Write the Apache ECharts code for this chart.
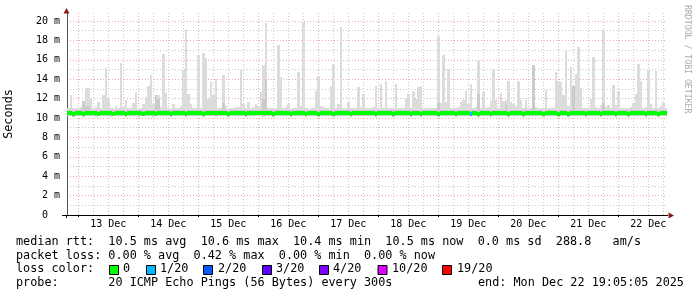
<!DOCTYPE html>
<html><head><meta charset="utf-8">
<script src="https://cdn.jsdelivr.net/npm/echarts@6/dist/echarts.min.js"></script>
<style>html,body{margin:0;padding:0;background:#fff}#c{width:697px;height:297px}</style>
</head><body><div id="c"></div>
<script>
// ---- data (hours are relative to 13 Dec 00:00; one bin = 1 hour) ----
const dayLabels = ['13 Dec','14 Dec','15 Dec','16 Dec','17 Dec','18 Dec','19 Dec','20 Dec','21 Dec','22 Dec'];
const yTickLabels = ['0','2 m','4 m','6 m','8 m','10 m','12 m','14 m','16 m','18 m','20 m'];
const START_HOUR = -4.5;
const END_HOUR = 235.5;
const BIN_HOURS = 1;

const maxRtt = [
11.0,12.4,11.0,10.9,11.0,11.1,11.8,13.1,13.1,12.0,11.0,11.1,11.6,11.0,12.4,15.1,12.1,11.0,10.9,11.2,
11.0,15.7,11.1,11.9,11.0,11.0,11.5,12.7,10.9,11.0,11.4,12.2,13.3,14.4,11.4,12.4,12.4,11.1,16.6,12.6,
11.0,10.9,11.4,11.0,11.0,11.2,14.9,19.1,12.5,11.4,11.0,11.0,16.5,11.0,16.7,16.2,12.0,13.7,12.4,14.0,
11.0,11.0,14.4,11.2,10.9,11.0,11.0,11.1,11.1,14.9,11.4,11.0,11.6,11.0,11.1,11.4,11.2,12.7,15.5,19.8,
11.0,10.9,11.0,11.0,17.5,14.2,11.0,11.1,11.4,10.9,11.0,11.0,14.7,11.2,19.9,11.0,10.9,11.0,11.0,12.8,
14.3,11.2,11.1,11.0,11.0,13.3,15.6,11.0,11.4,19.4,11.0,10.9,11.6,11.0,11.0,11.0,13.2,11.1,12.5,11.0,
11.0,11.0,11.1,13.3,11.0,13.5,11.0,13.8,11.0,11.0,11.0,13.5,11.0,11.0,11.0,12.1,12.5,11.0,12.8,12.0,
13.2,13.3,11.0,11.0,11.0,11.0,11.0,11.0,18.5,11.5,16.5,11.6,15.0,11.0,11.0,11.0,11.1,11.6,11.9,12.8,
11.4,13.5,11.0,11.1,16.0,11.0,12.7,11.0,11.1,11.7,15.0,11.9,11.0,12.6,11.8,11.9,13.8,11.6,11.4,11.2,
13.8,11.9,11.0,11.9,11.0,11.0,15.5,11.1,11.0,11.0,11.0,12.9,11.0,11.0,11.0,14.7,13.8,13.7,12.4,17.0,
11.2,15.3,13.3,14.5,17.3,13.1,11.0,11.0,11.0,12.0,16.3,11.1,11.0,11.3,19.1,11.1,11.3,11.0,13.4,11.3,
12.8,11.0,11.0,11.0,11.0,11.1,11.5,12.5,15.6,13.8,11.0,11.1,14.9,11.4,11.0,14.8,11.0,11.2,11.6,11.0
];
const coreRtt = [
10.8,10.8,10.8,10.8,10.8,10.8,11.8,11.2,11.2,10.8,10.8,10.8,10.8,10.8,10.8,10.8,10.8,10.8,10.8,10.8,
10.8,10.8,10.8,10.8,10.8,10.8,10.8,10.8,10.8,10.8,10.8,10.8,10.8,10.8,10.8,12.4,12.0,10.8,10.8,10.8,
10.8,10.8,10.8,10.8,10.8,10.8,10.8,10.8,10.8,10.8,10.8,10.8,10.8,10.8,10.8,10.8,10.8,10.8,10.8,10.8,
10.8,10.8,11.5,10.8,10.8,10.8,10.8,10.8,10.8,10.8,10.8,10.8,10.8,10.8,10.8,10.8,10.8,10.8,12.0,14.0,
10.8,10.8,10.8,10.8,10.8,10.8,10.8,10.8,10.8,10.8,10.8,10.8,10.8,10.8,10.8,10.8,10.8,10.8,10.8,10.8,
10.8,10.8,10.8,10.8,10.8,10.8,10.8,10.8,10.8,10.8,10.8,10.8,10.8,10.8,10.8,10.8,10.8,10.8,10.8,10.8,
10.8,10.8,10.8,10.8,10.8,10.8,10.8,10.8,10.8,10.8,10.8,10.8,10.8,10.8,10.8,10.8,10.8,10.8,10.8,10.8,
10.8,10.8,10.8,10.8,10.8,10.8,10.8,10.8,11.5,10.8,10.8,10.8,10.8,10.8,10.8,10.8,10.8,10.8,10.8,10.8,
10.8,10.8,10.8,10.8,12.5,10.8,10.8,10.8,10.8,10.8,10.8,10.8,10.8,10.8,10.8,11.3,10.8,10.8,10.8,10.8,
10.8,10.8,10.8,10.8,10.8,10.8,15.5,10.8,10.8,10.8,10.8,10.8,10.8,10.8,10.8,10.8,10.8,10.8,10.8,10.8,
10.8,10.8,13.3,10.8,10.8,10.8,10.8,10.8,10.8,10.8,10.8,10.8,10.8,10.8,11.5,10.8,10.8,10.8,10.8,10.8,
10.8,10.8,10.8,10.8,10.8,10.8,10.8,10.8,10.8,10.8,10.8,10.8,10.8,10.8,10.8,10.8,10.8,10.8,10.8,10.8
];
const minRtt = [
10.2,10.2,10.1,10.2,10.2,10.2,10.1,10.2,10.2,10.2,10.2,10.1,10.2,10.2,10.2,10.2,10.2,10.1,10.2,10.2,
10.2,10.2,10.2,10.1,10.2,10.2,10.2,10.2,10.1,10.2,10.2,10.2,10.2,10.2,10.1,10.2,10.2,10.2,10.2,10.2,
10.2,10.1,10.2,10.2,10.2,10.2,10.2,10.1,10.2,10.2,10.2,10.2,10.2,10.2,10.1,10.2,10.2,10.2,10.2,10.1,
10.2,10.2,10.2,10.2,10.1,10.2,10.2,10.2,10.2,10.2,10.2,10.1,10.2,10.2,10.2,10.2,10.2,10.2,10.1,10.2,
10.2,10.2,10.1,10.2,10.2,10.2,10.2,10.2,10.2,10.1,10.2,10.2,10.2,10.2,10.2,10.1,10.2,10.2,10.2,10.2,
10.1,10.2,10.2,10.2,10.2,10.2,10.1,10.2,10.2,10.2,10.2,10.2,10.2,10.1,10.2,10.2,10.2,10.2,10.2,10.2,
10.2,10.2,10.2,10.1,10.2,10.2,10.2,10.2,10.2,10.2,10.1,10.2,10.2,10.2,10.2,10.2,10.2,10.1,10.2,10.2,
10.2,10.1,10.2,10.2,10.2,10.2,10.2,10.2,10.1,10.2,10.2,10.2,10.2,10.2,10.2,10.1,10.2,10.2,10.2,10.2,
10.2,10.2,10.2,10.2,10.1,10.2,10.2,10.2,10.2,10.1,10.2,10.2,10.2,10.2,10.2,10.2,10.1,10.2,10.2,10.2,
10.2,10.2,10.1,10.2,10.2,10.2,10.2,10.2,10.2,10.2,10.1,10.2,10.2,10.2,10.2,10.2,10.1,10.2,10.2,10.2,
10.1,10.2,10.2,10.2,10.2,10.2,10.2,10.1,10.2,10.2,10.2,10.2,10.2,10.1,10.2,10.2,10.2,10.2,10.2,10.1,
10.2,10.2,10.2,10.2,10.1,10.2,10.2,10.2,10.2,10.2,10.2,10.1,10.2,10.2,10.2,10.2,10.1,10.2,10.2,10.2
];
const medianRtt = [
10.5,10.5,10.45,10.5,10.5,10.5,10.45,10.5,10.5,10.5,10.55,10.5,10.45,10.5,10.5,10.5,10.5,10.5,10.45,10.5,
10.5,10.5,10.5,10.45,10.5,10.5,10.55,10.5,10.5,10.5,10.45,10.5,10.5,10.5,10.5,10.45,10.5,10.5,10.5,10.5,
10.5,10.45,10.5,10.5,10.5,10.5,10.5,10.45,10.5,10.5,10.5,10.5,10.5,10.5,10.45,10.5,10.5,10.55,10.5,10.5,
10.5,10.5,10.5,10.5,10.45,10.5,10.5,10.5,10.5,10.5,10.5,10.45,10.5,10.5,10.5,10.5,10.55,10.5,10.5,10.5,
10.5,10.5,10.45,10.5,10.5,10.5,10.5,10.5,10.5,10.45,10.5,10.5,10.5,10.5,10.5,10.45,10.5,10.5,10.5,10.5,
10.45,10.5,10.5,10.5,10.5,10.5,10.45,10.5,10.5,10.5,10.5,10.5,10.5,10.45,10.5,10.5,10.5,10.5,10.5,10.5,
10.5,10.5,10.5,10.45,10.5,10.5,10.5,10.5,10.5,10.5,10.45,10.5,10.5,10.5,10.5,10.5,10.5,10.45,10.5,10.5,
10.5,10.45,10.5,10.5,10.5,10.5,10.5,10.5,10.45,10.5,10.5,10.5,10.55,10.5,10.5,10.45,10.5,10.5,10.5,10.5,
10.5,10.45,10.5,10.5,10.45,10.5,10.5,10.5,10.5,10.45,10.5,10.5,10.5,10.5,10.5,10.5,10.45,10.5,10.5,10.5,
10.5,10.5,10.45,10.5,10.5,10.5,10.5,10.5,10.5,10.5,10.45,10.5,10.5,10.5,10.5,10.5,10.45,10.5,10.5,10.5,
10.45,10.5,10.5,10.5,10.5,10.5,10.5,10.45,10.5,10.5,10.5,10.5,10.5,10.45,10.5,10.5,10.5,10.5,10.5,10.45,
10.5,10.5,10.5,10.5,10.45,10.5,10.5,10.5,10.5,10.5,10.5,10.45,10.5,10.5,10.5,10.5,10.45,10.5,10.5,10.5
];
const lossLevel = [
0,0,0,0,0,0,0,0,0,0,0,0,0,0,0,0,0,0,0,0,
0,0,0,0,0,0,0,0,0,0,0,0,0,0,0,0,0,0,0,0,
0,0,0,0,0,0,0,0,0,0,0,0,0,0,0,0,0,0,0,0,
0,0,0,0,0,0,0,0,0,0,0,0,0,0,0,0,0,0,0,0,
0,0,0,0,0,0,0,0,0,0,0,0,0,0,0,0,0,0,0,0,
0,0,0,0,0,0,0,0,0,0,0,0,0,0,0,0,0,0,0,0,
0,0,0,0,0,0,0,0,0,0,0,0,0,0,0,0,0,0,0,0,
0,0,0,0,0,0,0,0,0,0,0,0,0,0,0,0,0,0,0,0,
0,1,0,0,0,0,0,0,0,0,0,0,0,0,0,0,0,0,0,0,
0,0,0,0,0,0,0,0,0,0,0,0,0,0,0,0,0,0,0,0,
0,0,0,0,0,0,0,0,0,0,0,0,0,0,0,0,0,0,0,0,
0,0,0,0,0,0,0,0,0,0,0,0,0,0,0,0,0,0,0,0
];
const lossLabels = ['0','1/20','2/20','3/20','4/20','10/20','19/20'];
const lossColors = ['#00ff00','#00b8ff','#0059ff','#5e00ff','#7e00ff','#dd00ff','#ff0000'];
const medianStats = ['10.5 ms avg','10.6 ms max','10.4 ms min','10.5 ms now','0.0 ms sd','288.8   am/s'];
const lossStats = ['0.00 % avg','0.42 % max','0.00 % min','0.00 % now'];
const probeText = '20 ICMP Echo Pings (56 Bytes) every 300s';
const endText = 'end: Mon Dec 22 19:05:05 2025';

// ---- chart ----
const MONO = '"DejaVu Sans Mono", monospace';
const Y_MAX = 20.82;
const dayStarts = dayLabels.map((_, i) => i * 24);
const dayNoons = dayLabels.map((_, i) => i * 24 + 12);
const minorX = [];
for (let h = 6; h < END_HOUR; h += 6) if (h % 24 !== 0) minorX.push(h);
const majorY = yTickLabels.map((_, i) => i * 2);
const minorY = majorY.slice(0, -1).map(v => v + 1);

const items = maxRtt.map((v, i) => [START_HOUR + i * BIN_HOURS, minRtt[i], coreRtt[i], v, medianRtt[i], lossLevel[i]]);

function renderItem(params, api) {
  const t = api.value(0);
  const lo = api.value(1), core = api.value(2), hi = api.value(3), med = api.value(4), loss = api.value(5);
  const a = api.coord([t, lo]);
  const b = api.coord([t + BIN_HOURS, hi]);
  const c = api.coord([t, core]);
  const m = api.coord([t, med]);
  const x0 = Math.round(a[0]), x1 = Math.round(b[0]);
  const yLo = Math.round(a[1]), yHi = Math.round(b[1]), yC = Math.round(c[1]);
  const yM = Math.round(m[1] - 2);
  return {
    type: 'group',
    children: [
      {type: 'rect', shape: {x: x0, y: yHi, width: x1 - x0, height: yLo - yHi}, style: {fill: '#dcdcdc'}},
      {type: 'rect', shape: {x: x0, y: yC, width: x1 - x0, height: yLo - yC}, style: {fill: '#cbcbcb'}},
      {type: 'rect', shape: {x: x0, y: yM, width: x1 - x0, height: 4}, style: {fill: lossColors[loss]}}
    ]
  };
}

function txt(x, y, text, extra) {
  return Object.assign({type: 'text', x: x, y: y, silent: true,
    style: {text: text, font: '11.8px ' + MONO, fill: '#000', align: 'left', verticalAlign: 'middle',
      textAlign: 'left', textVerticalAlign: 'middle'}}, extra || {});
}

const graphics = [
  {type: 'line', shape: {x1: 62, y1: 215.5, x2: 668, y2: 215.5}, style: {stroke: '#000', lineWidth: 1}, z: 10},
  {type: 'line', shape: {x1: 66.5, y1: 215, x2: 66.5, y2: 218}, style: {stroke: '#000', lineWidth: 1}, z: 10},
  {type: 'polygon', shape: {points: [[66.5, 8], [63.5, 13.5], [69.5, 13.5]]}, style: {fill: '#8b1a1a'}, z: 10},
  {type: 'polygon', shape: {points: [[674, 215.5], [668.5, 212.5], [668.5, 218.5]]}, style: {fill: '#8b1a1a'}, z: 10},
  txt(16, 241.7, 'median rtt:  ' + medianStats.join('  ')),
  txt(16, 255.5, 'packet loss: ' + lossStats.join('  ')),
  txt(16, 269.3, 'loss color:'),
  txt(16, 283.1, 'probe:       ' + probeText),
  txt(478, 283.1, endText),
  {type: 'text', x: 687, y: 5, rotation: -Math.PI / 2, silent: true,
   style: {text: 'RRDTOOL / TOBI OETIKER', font: '8.2px ' + MONO, fill: '#aaaaaa',
     align: 'left', verticalAlign: 'middle', textAlign: 'left', textVerticalAlign: 'middle'}}
];
const squareX = [109, 146, 203, 262, 319, 377.5, 442];
const lossTextX = [123, 160, 218, 276, 333, 392, 457];
lossLabels.forEach((lab, i) => {
  graphics.push({type: 'rect', shape: {x: squareX[i] + 0.5, y: 265.5, width: 9, height: 9},
    style: {fill: lossColors[i], stroke: '#000', lineWidth: 1}});
  graphics.push(txt(lossTextX[i], 269.3, lab));
});

const chart = echarts.init(document.getElementById('c'), null, {renderer: 'canvas'});
chart.setOption({
  animation: false,
  backgroundColor: '#ffffff',
  grid: {left: 67, top: 13, width: 600, height: 202, containLabel: false, outerBoundsMode: 'none'},
  xAxis: [
    {type: 'value', min: START_HOUR, max: END_HOUR, position: 'bottom',
     axisLine: {show: true, onZero: false, lineStyle: {color: '#000', width: 1}},
     axisTick: {show: true, inside: false, length: 2, customValues: dayStarts, lineStyle: {color: '#000'}},
     axisLabel: {show: true, customValues: dayNoons, margin: 4, color: '#000', fontFamily: MONO, fontSize: 10,
       formatter: v => dayLabels[Math.round((v - 12) / 24)]},
     splitLine: {show: true, lineStyle: {color: '#eeaaaa', width: 1, type: [1, 2]}}},
    {type: 'value', min: START_HOUR, max: END_HOUR, position: 'bottom',
     axisLine: {show: false, onZero: false}, axisTick: {show: false, customValues: minorX}, axisLabel: {show: false},
     splitLine: {show: true, lineStyle: {color: '#c8c8c8', width: 1, type: [1, 2]}}}
  ],
  yAxis: [
    {type: 'value', min: 0, max: Y_MAX, position: 'left',
     name: 'Seconds', nameLocation: 'middle', nameRotate: 90, nameGap: 52,
     nameTextStyle: {fontFamily: MONO, fontSize: 11.8, color: '#000'},
     axisLine: {show: true, onZero: false, lineStyle: {color: '#555', width: 1}},
     axisTick: {show: false, customValues: majorY.slice(1)},
     axisLabel: {show: true, customValues: majorY, margin: 7, color: '#000', fontFamily: MONO, fontSize: 10,
       formatter: v => { const s = yTickLabels[Math.round(v / 2)]; return s === '0' ? '0  ' : s; }},
     splitLine: {show: true, lineStyle: {color: '#eeaaaa', width: 1, type: [1, 2]}}},
    {type: 'value', min: 0, max: Y_MAX, position: 'left',
     axisLine: {show: false, onZero: false}, axisTick: {show: false, customValues: minorY}, axisLabel: {show: false},
     splitLine: {show: true, lineStyle: {color: '#c8c8c8', width: 1, type: [1, 2]}}}
  ],
  series: [{
    type: 'custom', xAxisIndex: 0, yAxisIndex: 0, clip: true,
    renderItem: renderItem,
    encode: {x: 0, y: [1, 3]},
    data: items
  }],
  graphic: graphics
});
</script></body></html>
